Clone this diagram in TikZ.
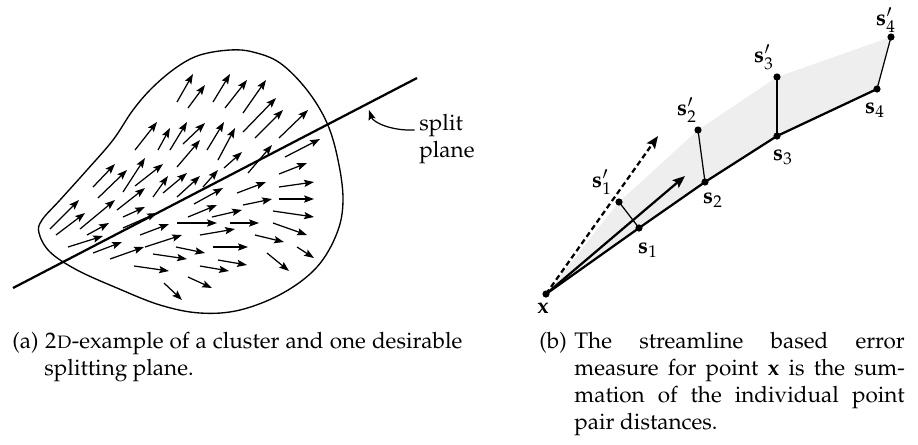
\documentclass[tikz,border=0pt]{standalone}
\usepackage[T1]{fontenc}
\usepackage{mathpazo}
\usepackage{tikz}
\usetikzlibrary{arrows.meta, calc}

\begin{document}
\begin{tikzpicture}[
    x=0.445pt, y=-0.445pt,
    every node/.style={font=\normalsize},
    vec/.style={-{Stealth[length=4.4pt, width=3.2pt, inset=0.8pt]}, line width=0.55pt},
    plane/.style={line width=1.0pt},
    outline/.style={line width=0.6pt},
    note/.style={-{Stealth[length=4.4pt, width=3.2pt, inset=0.8pt]}, line width=0.55pt},
    pt/.style={circle, fill=black, inner sep=0pt, minimum size=3.2pt},
    stream/.style={line width=1.0pt},
    pairline/.style={line width=0.55pt},
    dir/.style={-{Stealth[length=5.5pt, width=4.4pt, inset=1pt]}, line width=1.0pt},
    dirdash/.style={dir, dash pattern=on 2.4pt off 1.5pt},
    lbl/.style={inner sep=0pt},
    subcap/.style={inner sep=0pt, text width=#1, align=justify, anchor=north west},
]
    \useasboundingbox (0,0) rectangle (918,444);

    % --- (a) cluster outline ---
    \draw[outline] plot[smooth cycle, tension=0.6] coordinates {
        (230,50) (200,55) (177,67) (153,87) (133,110) (113,140) (87,170)
        (60,200) (42,220) (39,233) (50,252) (77,270) (117,288) (160,305)
        (200,313) (240,310) (283,293) (317,267) (337,233) (343,200)
        (338,160) (327,123) (307,90) (280,63) (253,52)};

    % --- (a) vector field ---
    \foreach \ax/\ay/\bx/\by in {
        177/102/193/74, 188/108/205/85, 213/102/230/74, 225/108/247/80,
        243/113/266/80, 243/132/276/98, 255/138/283/110, 279/138/308/110,
        135/150/157/122, 158/150/170/128, 170/150/187/122, 183/144/205/123,
        207/150/224/122, 218/160/235/128, 177/167/200/140, 224/168/242/152,
        248/173/272/145, 285/157/320/139,
        93/187/115/164, 98/198/127/170, 123/192/145/158, 135/186/163/164,
        153/197/168/176, 163/193/187/173, 177/197/200/176, 203/187/218/170,
        50/229/79/200, 56/235/85/213, 80/229/115/200, 117/210/145/188,
        123/217/145/207, 87/235/109/223,
        68/247/103/236, 93/253/122/242, 123/228/157/213, 140/235/169/224,
        110/259/144/247, 145/247/182/235, 194/204/223/188, 188/217/217/205,
        212/217/242/210, 237/193/266/182, 243/205/272/199, 279/174/307/163,
        279/187/314/182, 279/199/314/199, 273/211/314/217, 273/223/307/235,
        177/223/217/223, 230/223/259/223, 200/235/235/229, 213/247/248/247,
        255/235/284/242, 176/247/205/253, 153/254/187/259, 134/266/169/271,
        200/266/229/271, 218/260/247/265, 267/253/289/271, 297/247/314/258,
        164/283/182/300, 188/277/212/288}
        \draw[vec] (\ax,\ay) -- (\bx,\by);

    % --- (a) split plane ---
    \coordinate (planeA) at (13,288);
    \coordinate (planeB) at (417,78);
    \draw[plane] (planeA) -- (planeB);

    \node[lbl, anchor=north west, align=left] (splitlbl) at (419,114) {split\\plane};
    \coordinate (splithit) at (369,110);
    \draw[note] ([xshift=-2pt]splitlbl.west |- 0,130) .. controls +(-24,1) and +(4,12) .. (splithit);

    % --- (b) streamline points ---
    \coordinate (x)   at (546,294);
    \coordinate (s1)  at (639,228);
    \coordinate (s2)  at (705,182);
    \coordinate (s3)  at (777,136);
    \coordinate (s4)  at (877,89);
    \coordinate (s1p) at (619,202);
    \coordinate (s2p) at (698,130);
    \coordinate (s3p) at (777,77);
    \coordinate (s4p) at (891,37);

    % shaded area between both streamlines
    \fill[gray!13] (x) -- (s1p) -- (s2p) -- (s3p) -- (s4p) -- (s4) -- (s3) -- (s2) -- (s1) -- cycle;

    % direction at x
    \coordinate (dashtip) at (658,136);
    \coordinate (dirtip)  at (685,176);
    \draw[dirdash] (x) -- (dashtip);
    \draw[dir] (x) -- (dirtip);

    % streamline and point pairs
    \draw[stream] (x) -- (s1) -- (s2) -- (s3) -- (s4);
    \draw[pairline] (s1) -- (s1p);
    \draw[pairline] (s2) -- (s2p);
    \draw[pairline] (s3) -- (s3p);
    \draw[pairline] (s4) -- (s4p);

    \foreach \p in {x, s1, s2, s3, s4, s1p, s2p, s3p, s4p}
        \node[pt] (dot-\p) at (\p) {};

    % --- (b) labels ---
    \node[lbl] (xlbl)   at (543,308) {$\mathbf{x}$};
    \node[lbl] (s1lbl)  at (648,250) {$\mathbf{s}_1$};
    \node[lbl] (s2lbl)  at (713,200) {$\mathbf{s}_2$};
    \node[lbl] (s3lbl)  at (783,157) {$\mathbf{s}_3$};
    \node[lbl] (s4lbl)  at (875,110) {$\mathbf{s}_4$};
    \node[lbl] (s1plbl) at (602,182) {$\mathbf{s}'_1$};
    \node[lbl] (s2plbl) at (687,110) {$\mathbf{s}'_2$};
    \node[lbl] (s3plbl) at (764,57)  {$\mathbf{s}'_3$};
    \node[lbl] (s4plbl) at (886,20)  {$\mathbf{s}'_4$};

    % --- sub-captions ---
    \node[lbl, anchor=base west] (capa) at (12,348) {(a)};
    \node[subcap=186pt] (capatext) at (44,329.1)
        {\strut\textsc{2d}-example of a cluster and one desirable\linebreak splitting plane.};
    \node[lbl, anchor=base west] (capb) at (539,348) {(b)};
    \node[subcap=147pt] (capbtext) at (574,329.1)
        {\strut The streamline based error\linebreak measure for point $\mathbf{x}$ is the sum-\linebreak
         mation of the individual point\linebreak pair distances.};
\end{tikzpicture}
\end{document}
